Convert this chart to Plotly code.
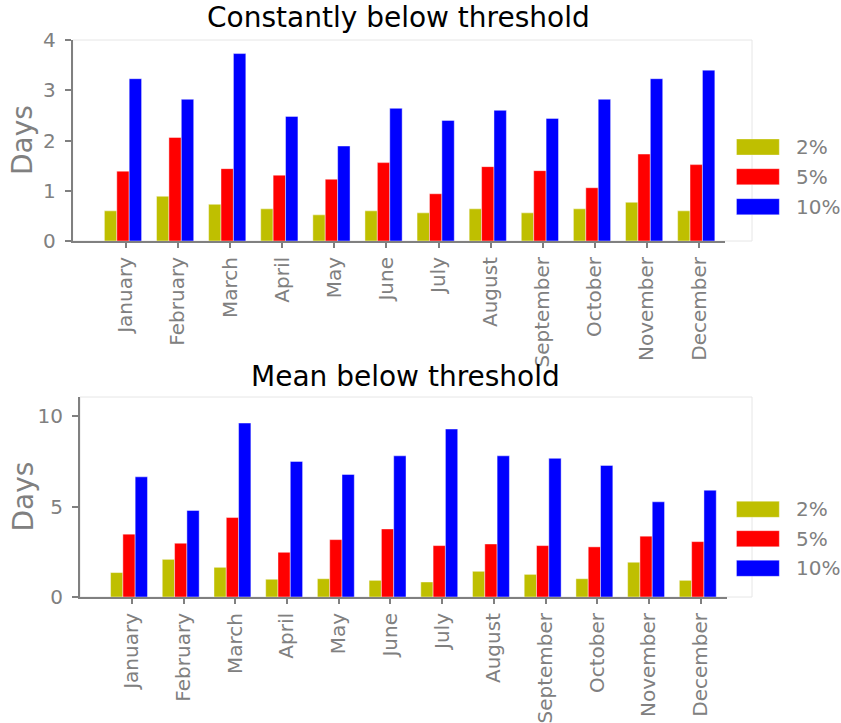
import plotly.graph_objects as go

# Monthly day counts below each threshold
months = ["January", "February", "March", "April", "May", "June", "July",
          "August", "September", "October", "November", "December"]
thresholds = ["2%", "5%", "10%"]
colors = ["#bfbf00", "#ff0000", "#0000ff"]

constant_2 = [0.60, 0.89, 0.73, 0.64, 0.52, 0.60, 0.56, 0.64, 0.56, 0.64, 0.77, 0.60]
constant_5 = [1.39, 2.06, 1.44, 1.31, 1.23, 1.56, 0.94, 1.48, 1.40, 1.06, 1.73, 1.52]
constant_10 = [3.23, 2.82, 3.73, 2.48, 1.89, 2.64, 2.40, 2.60, 2.44, 2.82, 3.23, 3.40]

mean_2 = [1.35, 2.08, 1.64, 0.98, 1.01, 0.92, 0.83, 1.42, 1.25, 1.01, 1.92, 0.92]
mean_5 = [3.47, 2.97, 4.39, 2.47, 3.17, 3.76, 2.84, 2.93, 2.84, 2.77, 3.36, 3.06]
mean_10 = [6.64, 4.78, 9.61, 7.49, 6.77, 7.80, 9.28, 7.80, 7.66, 7.27, 5.26, 5.90]

W, H = 841, 723
FONT = "DejaVu Sans"
GRAY = "#808080"

def px_x(p):
    return p / W

def px_y(p):
    return 1 - p / H

panels = [
    dict(title="Constantly below threshold", series=[constant_2, constant_5, constant_10],
         xdom=(72.7, 725), ydom=(40, 241), frame_r=752, xr=[-0.965, 11.552],
         yr=[0, 4], ytick=[0, 1, 2, 3, 4], title_y=17, title_x=398,
         legend_y=[147, 176.7, 206.7]),
    dict(title="Mean below threshold", series=[mean_2, mean_5, mean_10],
         xdom=(80, 727), ydom=(397, 597), frame_r=752, xr=[-0.948, 11.565],
         yr=[0, 11.05], ytick=[0, 5, 10], title_y=376, title_x=405,
         legend_y=[509.3, 538.7, 568.3]),
]

fig = go.Figure()
idx = list(range(len(months)))
shapes = []
annotations = []
layout_axes = {}

for k, p in enumerate(panels):
    sfx = "" if k == 0 else str(k + 1)
    for name, vals, col in zip(thresholds, p["series"], colors):
        fig.add_trace(go.Bar(
            x=idx, y=vals, name=name, showlegend=False,
            marker=dict(color=col, line=dict(color="rgba(255,255,255,0.55)", width=0.8)),
            xaxis="x" + sfx, yaxis="y" + sfx,
        ))
    axis_common = dict(showgrid=False, zeroline=False, showline=True, linecolor=GRAY,
                       linewidth=2, ticks="outside", tickcolor=GRAY, tickwidth=1.5,
                       automargin=False,
                       tickfont=dict(family=FONT, size=20, color=GRAY))
    layout_axes["xaxis" + sfx] = dict(
        axis_common, domain=[px_x(p["xdom"][0]), px_x(p["xdom"][1])],
        range=p["xr"], tickmode="array", tickvals=[i + 0.055 for i in idx],
        ticktext=months, tickangle=-90, ticklen=5, ticklabelstandoff=1,
        anchor="y" + sfx,
    )
    layout_axes["yaxis" + sfx] = dict(
        axis_common, domain=[px_y(p["ydom"][1]), px_y(p["ydom"][0])],
        range=p["yr"], tickmode="array", tickvals=p["ytick"], ticklen=6,
        ticklabelstandoff=5, anchor="x" + sfx,
    )
    # light frame around the plotting area
    shapes.append(dict(type="rect", xref="paper", yref="paper", layer="below",
                       x0=px_x(p["xdom"][0]), x1=px_x(p["frame_r"]),
                       y0=px_y(p["ydom"][1]), y1=px_y(p["ydom"][0]),
                       line=dict(color="#e6e6e6", width=1)))
    annotations.append(dict(text=p["title"], xref="paper", yref="paper",
                            x=px_x(p["title_x"]), y=px_y(p["title_y"]),
                            xanchor="center", yanchor="middle", showarrow=False,
                            font=dict(family=FONT, size=28, color="black")))
    annotations.append(dict(text="Days", xref="paper", yref="paper",
                            x=px_x(22.5), y=px_y((p["ydom"][0] + p["ydom"][1]) / 2),
                            xanchor="center", yanchor="middle", textangle=-90,
                            showarrow=False, font=dict(family=FONT, size=28, color=GRAY)))
    # legend entries
    for name, col, ly in zip(thresholds, colors, p["legend_y"]):
        shapes.append(dict(type="rect", xref="paper", yref="paper", layer="above",
                           x0=px_x(736.5), x1=px_x(779.3),
                           y0=px_y(ly + 8), y1=px_y(ly - 8),
                           fillcolor=col, line=dict(color="rgba(255,255,255,0.4)", width=0.8)))
        annotations.append(dict(text=name, xref="paper", yref="paper",
                                x=px_x(794), y=px_y(ly), xanchor="left", yanchor="middle",
                                showarrow=False, font=dict(family=FONT, size=20, color=GRAY)))

fig.update_layout(
    width=W, height=H, margin=dict(l=0, r=0, t=0, b=0),
    paper_bgcolor="white", plot_bgcolor="rgba(0,0,0,0)",
    barmode="group", bargap=0.286, bargroupgap=0,
    showlegend=False, shapes=shapes, annotations=annotations,
    **layout_axes,
)

fig.write_html("out.html")
